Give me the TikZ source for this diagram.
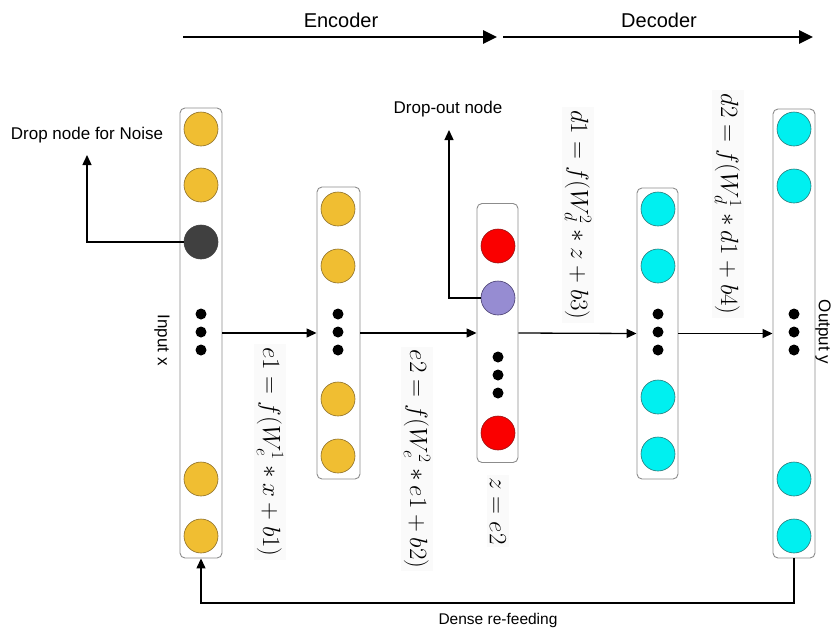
\documentclass[tikz,border=0pt]{standalone}
\usepackage{fontspec}
\newfontfamily\arialf{Liberation Sans}
\usetikzlibrary{arrows.meta}
\definecolor{yelF}{RGB}{240,190,50}
\definecolor{yelD}{RGB}{140,110,40}
\definecolor{cyaF}{RGB}{0,240,240}
\definecolor{cyaD}{RGB}{40,120,120}
\definecolor{redF}{RGB}{250,0,0}
\definecolor{redD}{RGB}{150,20,20}
\definecolor{purF}{RGB}{150,140,210}
\definecolor{purD}{RGB}{70,60,110}
\definecolor{drkF}{RGB}{64,64,64}
\definecolor{boxD}{RGB}{140,140,140}
\begin{document}
\begin{tikzpicture}[x=1pt,y=-1pt,
  colbox/.style={draw=boxD, rounded corners=5pt, line width=0.9pt, fill=white, minimum width=42pt, inner sep=0pt},
  neuron/.style={circle, minimum size=34pt, inner sep=0pt, line width=0.6pt},
  yel/.style={neuron, fill=yelF, draw=yelD},
  cya/.style={neuron, fill=cyaF, draw=cyaD},
  rd/.style={neuron, fill=redF, draw=redD},
  pur/.style={neuron, fill=purF, draw=purD},
  drk/.style={neuron, fill=drkF, draw=drkF},
  bdot/.style={circle, fill=black, minimum size=11pt, inner sep=0pt},
  lbl/.style={font=\arialf\fontsize{17}{20}\selectfont, inner sep=1pt},
  toplbl/.style={font=\arialf\fontsize{20}{24}\selectfont, inner sep=1pt},
  eqn/.style={rotate=-90, font=\fontsize{23}{27}\selectfont, fill=black!2, inner sep=3pt},
  conn/.style={line width=1.3pt, -{Triangle[length=10pt,width=9pt]}},
  bigarrow/.style={line width=2.6pt, -{Triangle[length=14pt,width=13pt]}}
]
\useasboundingbox (0,0) rectangle (831,630);

% top arrows
\coordinate (encA) at (183,37);
\coordinate (encB) at (497,37);
\coordinate (decA) at (503,37);
\coordinate (decB) at (813,37);
\draw[bigarrow] (encA) -- (encB);
\draw[bigarrow] (decA) -- (decB);
\node[toplbl] (enc) at (341,20) {Encoder};
\node[toplbl] (dec) at (659,20) {Decoder};

% columns
\node[colbox, minimum width=42pt, minimum height=450pt] (c1) at (201,333) {};
\node[colbox, minimum width=43pt, minimum height=292pt] (c2) at (338.5,333) {};
\node[colbox, minimum width=41pt, minimum height=259pt] (c3) at (497.5,333) {};
\node[colbox, minimum width=41pt, minimum height=291pt] (c4) at (657.5,333.5) {};
\node[colbox, minimum width=42pt, minimum height=449pt] (c5) at (794,333.5) {};

% column 1
\node[yel] (a1) at (201,129) {};
\node[yel] (a2) at (201,185) {};
\node[drk] (a3) at (201,242) {};
\node[bdot] (a4) at (201,314) {};
\node[bdot] (a5) at (201,332) {};
\node[bdot] (a6) at (201,350) {};
\node[yel] (a7) at (201,479) {};
\node[yel] (a8) at (201,536) {};

% column 2
\node[yel] (b1) at (338,209) {};
\node[yel] (b2) at (338,266) {};
\node[bdot] (b3) at (338,314) {};
\node[bdot] (b4) at (338,332) {};
\node[bdot] (b5) at (338,350) {};
\node[yel] (b6) at (338,399) {};
\node[yel] (b7) at (338,456) {};

% column 3
\node[rd] (z1) at (498,246) {};
\node[pur] (z2) at (498,298) {};
\node[bdot] (z3) at (498,357) {};
\node[bdot] (z4) at (498,375) {};
\node[bdot] (z5) at (498,393) {};
\node[rd] (z6) at (498,433) {};

% column 4
\node[cya] (d1) at (658,209) {};
\node[cya] (d2) at (658,266) {};
\node[bdot] (d3) at (658,314) {};
\node[bdot] (d4) at (658,332) {};
\node[bdot] (d5) at (658,350) {};
\node[cya] (d6) at (658,397) {};
\node[cya] (d7) at (658,454) {};

% column 5
\node[cya] (o1) at (794,129) {};
\node[cya] (o2) at (794,186) {};
\node[bdot] (o3) at (794,314) {};
\node[bdot] (o4) at (794,332) {};
\node[bdot] (o5) at (794,350) {};
\node[cya] (o6) at (794,479) {};
\node[cya] (o7) at (794,536) {};

% connectors between layers
\draw[conn] (c1.east) -- (c2.west);
\draw[conn] (c2.east) -- (c3.west);
\draw[conn] (c3.east) -- (c4.west);
\draw[conn] (c4.east) -- (c5.west);

% drop node for noise
\node[lbl] (noise) at (87,135) {Drop node for Noise};
\coordinate (noisetip) at (87,155);
\draw[conn] (a3.west) -| (noisetip);

% drop-out node
\node[lbl] (dropout) at (448,109) {Drop-out node};
\coordinate (droptip) at (449,130);
\draw[conn] (z2.west) -| (droptip);

% dense re-feeding
\coordinate (feedR) at (794,603);
\draw[conn] (c5.south) -- (feedR) -| (c1.south);
\node[lbl, font=\arialf\fontsize{15.5}{18}\selectfont] (feed) at (498,620) {Dense re-feeding};

% side labels
\node[lbl, rotate=-90] (inx) at (162,340) {Input x};
\node[lbl, rotate=-90, inner sep=0pt] (outy) at (823,332) {Output y};

% equations
\node[eqn] (eq1) at (270,452) {$e1 = f(W_e^1 * x + b1)$};
\node[eqn] (eq2) at (417,459) {$e2 = f(W_e^2 * e1 + b2)$};
\node[eqn] (eqz) at (498,511) {$z = e2$};
\node[eqn] (eq3) at (578,215) {$d1 = f(W_d^2 * z + b3)$};
\node[eqn] (eq4) at (728,204) {$d2 = f(W_d^1 * d1 + b4)$};
\end{tikzpicture}
\end{document}
